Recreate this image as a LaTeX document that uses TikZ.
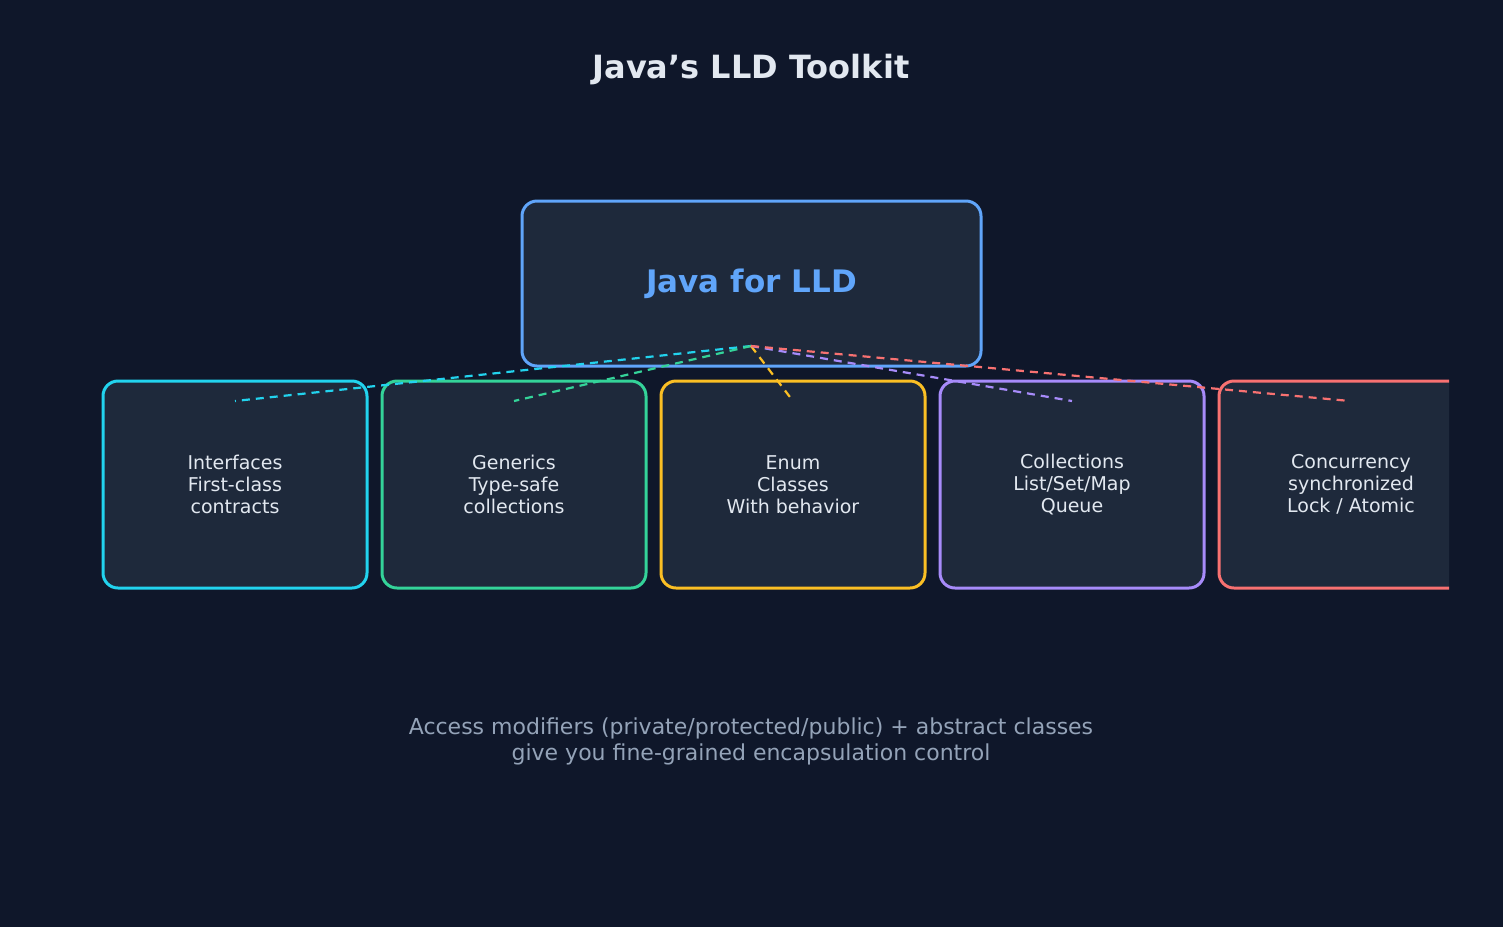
\documentclass[tikz,border=0pt]{standalone}
\usepackage{fontspec}
\setmainfont{DejaVu Sans}
\definecolor{bg}{HTML}{0F172A}
\definecolor{boxf}{HTML}{1E293B}
\definecolor{txt}{HTML}{E2E8F0}
\definecolor{sub}{HTML}{94A3B8}
\definecolor{cA}{HTML}{22D3EE}
\definecolor{cB}{HTML}{34D399}
\definecolor{cC}{HTML}{FBBF24}
\definecolor{cD}{HTML}{A78BFA}
\definecolor{cE}{HTML}{F87171}
\definecolor{cM}{HTML}{60A5FA}
\begin{document}
\begin{tikzpicture}[x=0.5pt,y=-0.5pt,
  card/.style={draw=#1,line width=1.5pt,fill=boxf,rounded corners=7.5pt,minimum width=132pt,minimum height=103.5pt,text=txt,font=\fontsize{9.5}{11}\selectfont,align=center},
  link/.style={draw=#1,dashed,line width=1.1pt,dash pattern=on 4pt off 3pt}]
\fill[bg] (0,0) rectangle (1503,927);
\useasboundingbox (0,0) rectangle (1503,927);
\node[text=txt,font=\bfseries\fontsize{16}{19}\selectfont] (title) at (751,70) {Java's LLD Toolkit};
\node[draw=cM,line width=1.5pt,fill=boxf,rounded corners=7.5pt,minimum width=229.5pt,minimum height=82.5pt,text=cM,font=\bfseries\fontsize{15.5}{18}\selectfont] (main) at (751.5,283.5) {Java for LLD};
\begin{scope}
\clip (0,0) rectangle (1449,927);
\node[card=cA] (a) at (235,484.5) {Interfaces\\First-class\\contracts};
\node[card=cB] (b) at (514,484.5) {Generics\\Type-safe\\collections};
\node[card=cC] (c) at (793,484.5) {Enum\\Classes\\With behavior};
\node[card=cD] (d) at (1072,484.5) {Collections\\List/Set/Map\\Queue};
\node[card=cE] (e) at (1351,484.5) {Concurrency\\synchronized\\Lock / Atomic};
\end{scope}
\coordinate (hub) at (751,346);
\coordinate (ea) at (235,401);
\coordinate (eb) at (514,401);
\coordinate (ec) at (793,401);
\coordinate (ed) at (1072,401);
\coordinate (ee) at (1350,401);
\draw[link=cA] (hub) -- (ea);
\draw[link=cB] (hub) -- (eb);
\draw[link=cC] (hub) -- (ec);
\draw[link=cD] (hub) -- (ed);
\draw[link=cE] (hub) -- (ee);
\node[text=sub,align=center,font=\fontsize{11}{13}\selectfont] (note) at (751,741) {Access modifiers (private/protected/public) + abstract classes\\give you fine-grained encapsulation control};
\end{tikzpicture}
\end{document}
